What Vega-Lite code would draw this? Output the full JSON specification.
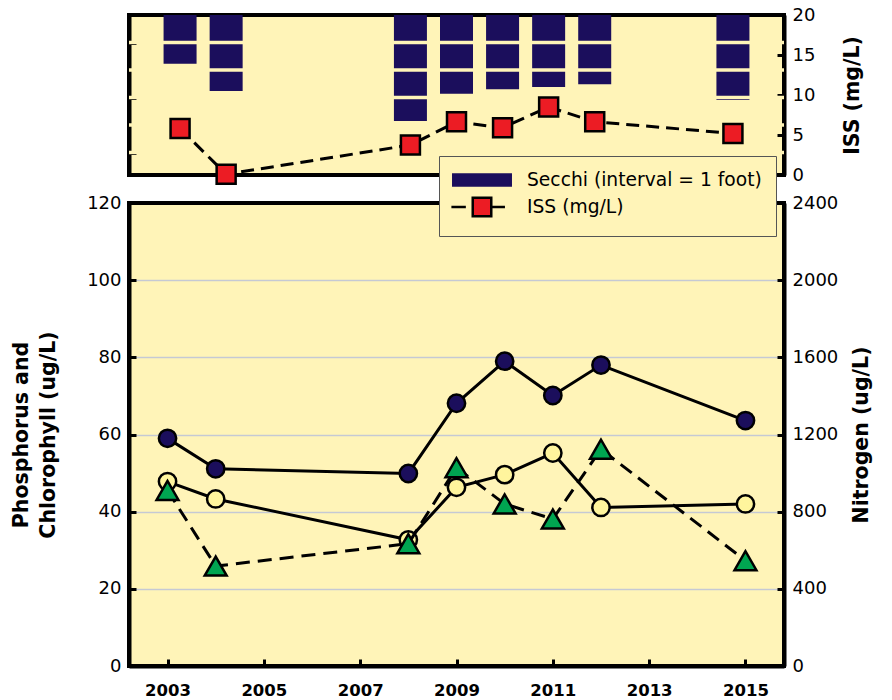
{
  "$schema": "https://vega.github.io/schema/vega-lite/v6.json",
  "background": "white",
  "padding": {"left": 9, "top": 4, "right": 0, "bottom": 0},
  "spacing": 28,
  "bounds": "flush",
  "config": {
    "view": {"stroke": "black", "strokeWidth": 4, "fill": "#FFF4B8"},
    "axis": {
      "labelFont": "DejaVu Sans", "labelFontSize": 18, "labelColor": "black",
      "titleFont": "DejaVu Sans", "titleFontSize": 20.5, "titleFontWeight": "bold", "titleColor": "black",
      "domainColor": "black", "domainWidth": 4, "tickColor": "black", "tickWidth": 3, "tickSize": -7,
      "labelPadding": 15, "zindex": 1, "grid": false
    }
  },
  "datasets": {
    "clarity": [
      {"year": 2003, "secchi": 1.77, "iss": 5.8},
      {"year": 2004, "secchi": 2.76, "iss": 0.1},
      {"year": 2008, "secchi": 3.85, "iss": 3.75},
      {"year": 2009, "secchi": 2.86, "iss": 6.65},
      {"year": 2010, "secchi": 2.70, "iss": 5.9},
      {"year": 2011, "secchi": 2.62, "iss": 8.5},
      {"year": 2012, "secchi": 2.52, "iss": 6.65},
      {"year": 2015, "secchi": 3.09, "iss": 5.2}
    ],
    "nutrients": [
      {"year": 2003, "phosphorus": 59.0, "chlorophyll": 45.5, "nitrogen": 956},
      {"year": 2004, "phosphorus": 51.1, "chlorophyll": 25.9, "nitrogen": 866},
      {"year": 2008, "phosphorus": 49.9, "chlorophyll": 31.7, "nitrogen": 654},
      {"year": 2009, "phosphorus": 68.1, "chlorophyll": 51.4, "nitrogen": 926},
      {"year": 2010, "phosphorus": 79.0, "chlorophyll": 42.0, "nitrogen": 992},
      {"year": 2011, "phosphorus": 70.1, "chlorophyll": 38.1, "nitrogen": 1104},
      {"year": 2012, "phosphorus": 78.0, "chlorophyll": 56.2, "nitrogen": 822},
      {"year": 2015, "phosphorus": 63.6, "chlorophyll": 27.3, "nitrogen": 840}
    ],
    "feet": [{"foot": 1}, {"foot": 2}, {"foot": 3}, {"foot": 4}, {"foot": 5}]
  },
  "resolve": {
    "scale": {"x": "independent", "y": "independent", "fill": "shared"},
    "legend": {"fill": "shared"}
  },
  "vconcat": [
    {
      "width": 655,
      "height": 160,
      "layer": [
        {
          "layer": [
            {
              "data": {"name": "clarity"},
              "transform": [
                {"fold": ["secchi", "iss"], "as": ["series", "value"]},
                {"filter": "datum.series == 'secchi'"}
              ],
              "mark": {"type": "bar", "width": 33},
              "encoding": {
                "x": {"field": "year", "type": "quantitative", "scale": {"domain": [2002, 2016], "nice": false, "zero": false}, "axis": null},
                "y": {"field": "value", "type": "quantitative", "scale": {"domain": [0, 5.818], "reverse": true, "nice": false}, "axis": {"orient": "left", "title": null, "labels": false, "values": [1, 2, 3, 4, 5]}},
                "fill": {
                  "field": "series", "type": "nominal",
                  "scale": {"domain": ["secchi", "iss"], "range": ["#1B0E5C", "#EC1C24"]},
                  "legend": {
                    "title": null, "orient": "none", "legendX": 310, "legendY": 141, "direction": "vertical",
                    "fillColor": "#FFF4B8", "strokeColor": "#555555", "padding": 14, "rowPadding": 1,
                    "labelFont": "DejaVu Sans", "labelFontSize": 18.7, "labelColor": "black", "labelLimit": 400,
                    "labelExpr": "datum.label == 'secchi' ? 'Secchi (interval = 1 foot)' : 'ISS (mg/L)'",
                    "symbolSize": 289, "symbolOffset": 19, "labelOffset": 35, "symbolStrokeWidth": 2.5,
                    "encode": {
                      "symbols": {
                        "update": {
                          "shape": {"signal": "datum.value == 'secchi' ? 'M-3.38,-0.65H3.38V0.65H-3.38Z' : 'M-3.6,0H-1.9M-1.09,-1.09H1.09V1.09H-1.09ZM1.09,0H2.7'"},
                          "stroke": {"signal": "datum.value == 'secchi' ? '#1B0E5C' : 'black'"},
                          "strokeWidth": {"value": 2.5},
                          "opacity": {"value": 1}
                        }
                      }
                    }
                  }
                }
              }
            },
            {
              "data": {"name": "feet"},
              "mark": {"type": "rule", "stroke": "#FFF4B8", "strokeWidth": 3.5},
              "encoding": {
                "y": {"field": "foot", "type": "quantitative"}
              }
            }
          ]
        },
        {
          "data": {"name": "clarity"},
          "transform": [
            {"fold": ["secchi", "iss"], "as": ["series", "value"]},
            {"filter": "datum.series == 'iss'"}
          ],
          "encoding": {
            "x": {"field": "year", "type": "quantitative", "scale": {"domain": [2002, 2016], "nice": false, "zero": false}, "axis": null},
            "y": {"field": "value", "type": "quantitative", "scale": {"domain": [0, 20], "nice": false}, "axis": {"orient": "right", "values": [0, 5, 10, 15, 20], "title": "ISS (mg/L)", "titleAngle": 270, "titleBaseline": "top", "titlePadding": 28}}
          },
          "layer": [
            {"mark": {"type": "line", "stroke": "black", "strokeWidth": 3, "strokeDash": [13, 7]}},
            {
              "mark": {"type": "point", "shape": "square", "filled": true, "size": 361, "stroke": "black", "strokeWidth": 2.5, "opacity": 1},
              "encoding": {"fill": {"field": "series", "type": "nominal"}}
            }
          ]
        }
      ],
      "resolve": {"scale": {"y": "independent"}}
    },
    {
      "width": 655,
      "height": 463,
      "data": {"name": "nutrients"},
      "encoding": {
        "x": {"field": "year", "type": "quantitative", "scale": {"domain": [2002.2, 2015.8], "nice": false, "zero": false},
          "axis": {"values": [2003, 2005, 2007, 2009, 2011, 2013, 2015], "format": "d", "title": null, "labelFontWeight": "bold", "labelFontSize": 16.5, "labelPadding": 23}}
      },
      "layer": [
        {
          "encoding": {
            "y": {"field": "nitrogen", "type": "quantitative", "scale": {"domain": [0, 2400], "nice": false},
              "axis": {"orient": "right", "values": [0, 400, 800, 1200, 1600, 2000, 2400], "format": "d", "title": "Nitrogen (ug/L)", "titleAngle": 270, "titleBaseline": "top", "titlePadding": 14}}
          },
          "layer": [
            {"mark": {"type": "line", "stroke": "black", "strokeWidth": 3}},
            {"mark": {"type": "point", "shape": "circle", "filled": true, "fill": "#FFF59D", "stroke": "black", "strokeWidth": 2.5, "size": 300, "opacity": 1}}
          ]
        },
        {
          "layer": [
            {
              "mark": {"type": "line", "stroke": "black", "strokeWidth": 3},
              "encoding": {"y": {"field": "phosphorus", "type": "quantitative", "scale": {"domain": [0, 120], "nice": false},
                "axis": {"orient": "left", "values": [0, 20, 40, 60, 80, 100, 120], "title": ["Phosphorus and", "Chlorophyll (ug/L)"], "titlePadding": 28, "titleLineHeight": 26.7, "grid": true, "gridWidth": 1.5,
                  "gridColor": {"condition": {"test": "datum.value == 0 || datum.value == 120", "value": "transparent"}, "value": "#C5C9D4"}}}}
            },
            {
              "mark": {"type": "point", "shape": "circle", "filled": true, "fill": "#1B0E5C", "stroke": "black", "strokeWidth": 2.5, "size": 300, "opacity": 1},
              "encoding": {"y": {"field": "phosphorus", "type": "quantitative", "scale": {"domain": [0, 120], "nice": false},
                "axis": {"orient": "left", "values": [0, 20, 40, 60, 80, 100, 120], "title": ["Phosphorus and", "Chlorophyll (ug/L)"], "titlePadding": 28, "titleLineHeight": 26.7, "grid": true, "gridWidth": 1.5,
                  "gridColor": {"condition": {"test": "datum.value == 0 || datum.value == 120", "value": "transparent"}, "value": "#C5C9D4"}}}}
            },
            {
              "mark": {"type": "line", "stroke": "black", "strokeWidth": 3, "strokeDash": [14, 8]},
              "encoding": {"y": {"field": "chlorophyll", "type": "quantitative", "scale": {"domain": [0, 120], "nice": false},
                "axis": {"orient": "left", "values": [0, 20, 40, 60, 80, 100, 120], "title": ["Phosphorus and", "Chlorophyll (ug/L)"], "titlePadding": 28, "titleLineHeight": 26.7, "grid": true, "gridWidth": 1.5,
                  "gridColor": {"condition": {"test": "datum.value == 0 || datum.value == 120", "value": "transparent"}, "value": "#C5C9D4"}}}}
            },
            {
              "mark": {"type": "point", "shape": "triangle-up", "filled": true, "fill": "#00A551", "stroke": "black", "strokeWidth": 2.5, "size": 480, "opacity": 1},
              "encoding": {"y": {"field": "chlorophyll", "type": "quantitative", "scale": {"domain": [0, 120], "nice": false},
                "axis": {"orient": "left", "values": [0, 20, 40, 60, 80, 100, 120], "title": ["Phosphorus and", "Chlorophyll (ug/L)"], "titlePadding": 28, "titleLineHeight": 26.7, "grid": true, "gridWidth": 1.5,
                  "gridColor": {"condition": {"test": "datum.value == 0 || datum.value == 120", "value": "transparent"}, "value": "#C5C9D4"}}}}
            }
          ]
        }
      ],
      "resolve": {"scale": {"y": "independent"}}
    }
  ]
}
